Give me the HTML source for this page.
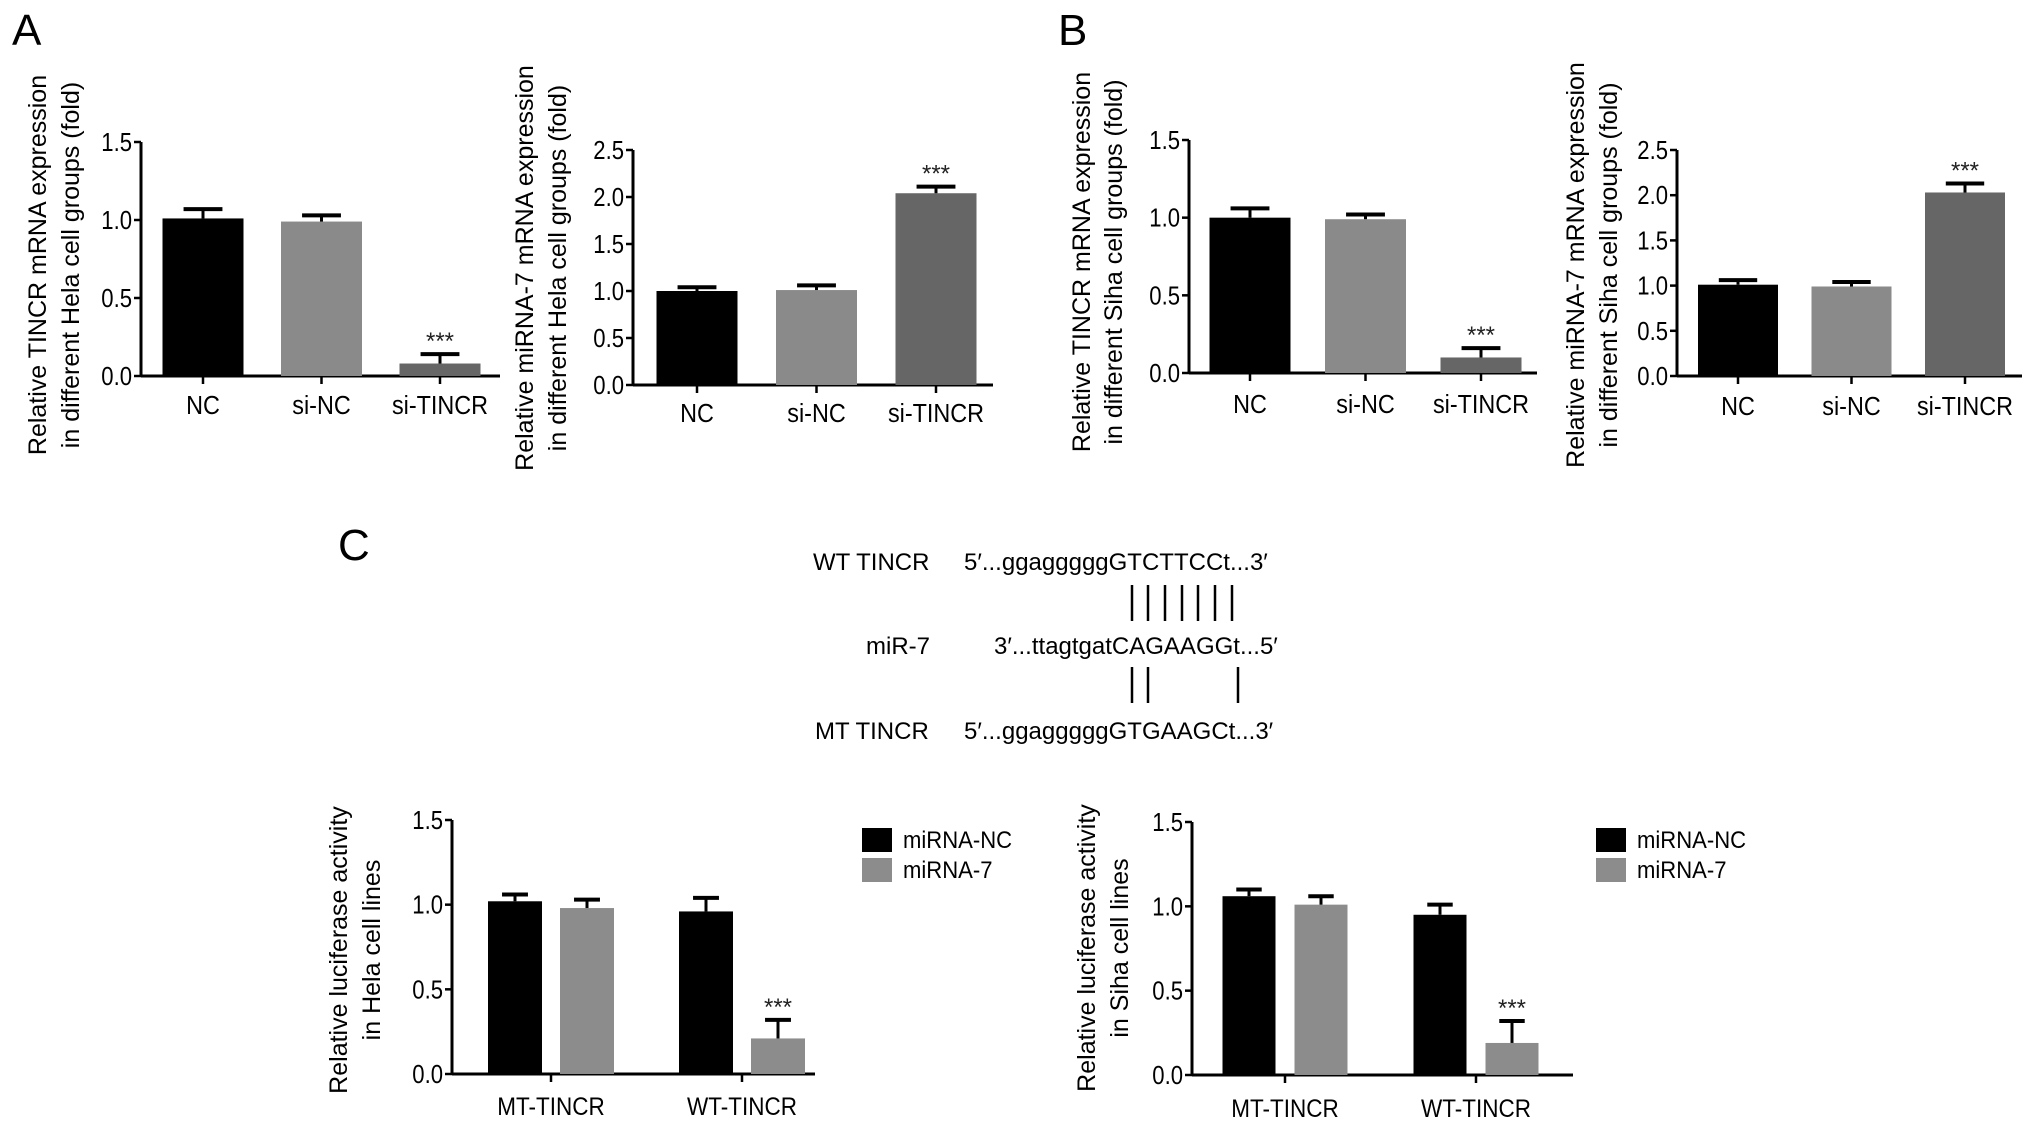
<!DOCTYPE html>
<html><head><meta charset="utf-8"><style>
html,body{margin:0;padding:0;background:#fff;}
svg{display:block;font-family:"Liberation Sans",Arial,sans-serif;}
</style></head><body>
<svg id="fig" width="2032" height="1128" viewBox="0 0 2032 1128" xmlns="http://www.w3.org/2000/svg">
<text x="12" y="45" font-size="44">A</text>
<text x="1058" y="45" font-size="44">B</text>
<text x="338" y="560" font-size="44">C</text>
<g font-size="24">
<text x="813" y="570">WT TINCR</text>
<text x="964" y="570">5′...ggagggggGTCTTCCt...3′</text>
<text x="866" y="654">miR-7</text>
<text x="994" y="654">3′...ttagtgatCAGAAGGt...5′</text>
<text x="815" y="739">MT TINCR</text>
<text x="964" y="739">5′...ggagggggGTGAAGCt...3′</text>
<g stroke="#000" stroke-width="2.5">
<line x1="1132" y1="585" x2="1132" y2="621"/><line x1="1148" y1="585" x2="1148" y2="621"/><line x1="1165" y1="585" x2="1165" y2="621"/><line x1="1182" y1="585" x2="1182" y2="621"/><line x1="1198" y1="585" x2="1198" y2="621"/><line x1="1215" y1="585" x2="1215" y2="621"/><line x1="1232" y1="585" x2="1232" y2="621"/>
<line x1="1132" y1="667" x2="1132" y2="703"/><line x1="1148" y1="667" x2="1148" y2="703"/><line x1="1238" y1="667" x2="1238" y2="703"/>
</g></g>
</svg>
<script>
// ---- data ----
const catsA = ["NC","si-NC","si-TINCR"];
const a1Values = [1.01, 0.99, 0.08];
const a1Errors = [0.06, 0.04, 0.06];
const a2Values = [1.00, 1.01, 2.04];
const a2Errors = [0.04, 0.05, 0.07];
const b1Values = [1.00, 0.99, 0.10];
const b1Errors = [0.06, 0.03, 0.06];
const b2Values = [1.01, 0.99, 2.03];
const b2Errors = [0.05, 0.05, 0.10];
const ticks15 = ["0.0","0.5","1.0","1.5"];
const ticks25 = ["0.0","0.5","1.0","1.5","2.0","2.5"];
const catsC = ["MT-TINCR","WT-TINCR"];
const seriesC = ["miRNA-NC","miRNA-7"];
const c1NC = [1.02, 0.96];
const c1NCErr = [0.04, 0.08];
const c17 = [0.98, 0.21];
const c17Err = [0.05, 0.11];
const c2NC = [1.06, 0.95];
const c2NCErr = [0.04, 0.06];
const c27 = [1.01, 0.19];
const c27Err = [0.05, 0.13];
const sigA = [false,false,true];
const sigC = [false,true];

const NS="http://www.w3.org/2000/svg";
const svg=document.getElementById('fig');
function mk(tag,attrs,parent){const e=document.createElementNS(NS,tag);for(const k in attrs)e.setAttribute(k,attrs[k]);(parent||svg).appendChild(e);return e;}

function axes(g,L,ticks){
  const ys=v=>L.y0-(v/L.max)*(L.y0-L.yTop);
  mk('line',{x1:L.ax,y1:ys(L.max),x2:L.ax,y2:L.y0,stroke:'#000','stroke-width':3},g);
  mk('line',{x1:L.ax,y1:L.y0,x2:L.end,y2:L.y0,stroke:'#000','stroke-width':3},g);
  ticks.forEach(t=>{const y=ys(parseFloat(t));
    mk('line',{x1:L.ax-7,y1:y,x2:L.ax,y2:y,stroke:'#000','stroke-width':2.5},g);
    const tx=mk('text',{x:0,y:0,'font-size':26,'text-anchor':'end',transform:`translate(${L.ax-9},${y+9}) scale(0.85,1)`},g);
    tx.textContent=t;
    
    
  });
  L.title.forEach((line,i)=>{
    const t=mk('text',{x:0,y:0,'font-size':25,'text-anchor':'middle',transform:`translate(${L.tx[i]},${L.tcy}) rotate(-90)`},g);
    t.textContent=line;
    
    
  });
  return ys;
}
function bar(g,ys,cx,w,v,e,color,sig){
  const r=mk('rect',{x:cx-w/2,y:ys(v),width:w,height:ys(0)-ys(v),fill:color},g);
  
  
  const top=ys(v+e);
  mk('line',{x1:cx,y1:ys(v),x2:cx,y2:top,stroke:'#000','stroke-width':3},g);
  mk('line',{x1:cx-w*0.24,y1:top,x2:cx+w*0.24,y2:top,stroke:'#000','stroke-width':4},g);
  if(sig){const s=mk('text',{x:cx,y:top-5,'font-size':24,'text-anchor':'middle',fill:'#222'},g);s.textContent='***';
    
    }
}
function simpleChart(name,L,vals,errs,ticks){
  const g=mk('g',{});
  
  
  const ys=axes(g,L,ticks);
  const colors=['#000','#8a8a8a','#666'];
  catsA.forEach((c,i)=>{
    const cx=L.c0+i*L.step;
    bar(g,ys,cx,L.bw,vals[i],errs[i],colors[i],sigA[i]);
    mk('line',{x1:cx,y1:L.y0,x2:cx,y2:L.y0+8,stroke:'#000','stroke-width':2.5},g);
    const t=mk('text',{x:0,y:0,'font-size':26,'text-anchor':'middle',transform:`translate(${cx},${L.ly}) scale(0.9,1)`},g);
    t.textContent=c;
    
    
  });
}
function groupChart(name,L,nc,ncE,m7,m7E,ticks){
  const g=mk('g',{});
  
  
  const ys=axes(g,L,ticks);
  catsC.forEach((c,i)=>{
    const gc=L.c0+i*L.step;
    bar(g,ys,gc-36,L.bw,nc[i],ncE[i],'#000',false);
    bar(g,ys,gc+36,L.bw,m7[i],m7E[i],'#8c8c8c',sigC[i]);
    mk('line',{x1:gc,y1:L.y0,x2:gc,y2:L.y0+8,stroke:'#000','stroke-width':2.5},g);
    const t=mk('text',{x:0,y:0,'font-size':25,'text-anchor':'middle',transform:`translate(${gc},${L.ly}) scale(0.9,1)`},g);
    t.textContent=c;
    
    
  });
  seriesC.forEach((s,i)=>{
    const y=828+i*30;
    const r=mk('rect',{x:L.lx,y:y,width:30,height:24,fill:i?'#8c8c8c':'#000'},g);
    
    
    const t=mk('text',{x:0,y:0,'font-size':24,transform:`translate(${L.lx+41},${y+20}) scale(0.92,1)`},g);
    t.textContent=s;
    
    
  });
}
simpleChart('chart-a-tincr-hela',{ax:141,end:500,y0:376,yTop:142,max:1.5,c0:203,step:118.5,bw:81,ly:414,tx:[46,79],tcy:265,title:["Relative TINCR mRNA expression","in different Hela cell groups (fold)"]},a1Values,a1Errors,ticks15);
simpleChart('chart-a-mir7-hela',{ax:633,end:993,y0:385,yTop:150,max:2.5,c0:697,step:119.5,bw:81,ly:422,tx:[533,566],tcy:268,title:["Relative miRNA-7 mRNA expression","in different Hela cell groups (fold)"]},a2Values,a2Errors,ticks25);
simpleChart('chart-b-tincr-siha',{ax:1189,end:1537,y0:373,yTop:140,max:1.5,c0:1250,step:115.5,bw:81,ly:413,tx:[1090,1122],tcy:262,title:["Relative TINCR mRNA expression","in different Siha cell groups (fold)"]},b1Values,b1Errors,ticks15);
simpleChart('chart-b-mir7-siha',{ax:1677,end:2022,y0:376,yTop:150,max:2.5,c0:1738,step:113.5,bw:80,ly:415,tx:[1584,1617],tcy:265,title:["Relative miRNA-7 mRNA expression","in different Siha cell groups (fold)"]},b2Values,b2Errors,ticks25);
groupChart('chart-c-luciferase-hela',{ax:452,end:815,y0:1074,yTop:820,max:1.5,c0:551,step:191,bw:54,ly:1115,tx:[347,380],tcy:950,lx:862,title:["Relative luciferase activity","in Hela cell lines"]},c1NC,c1NCErr,c17,c17Err,ticks15);
groupChart('chart-c-luciferase-siha',{ax:1192,end:1573,y0:1075,yTop:822,max:1.5,c0:1285,step:191,bw:53,ly:1117,tx:[1095,1128],tcy:948,lx:1596,title:["Relative luciferase activity","in Siha cell lines"]},c2NC,c2NCErr,c27,c27Err,ticks15);
</script>
</body></html>
